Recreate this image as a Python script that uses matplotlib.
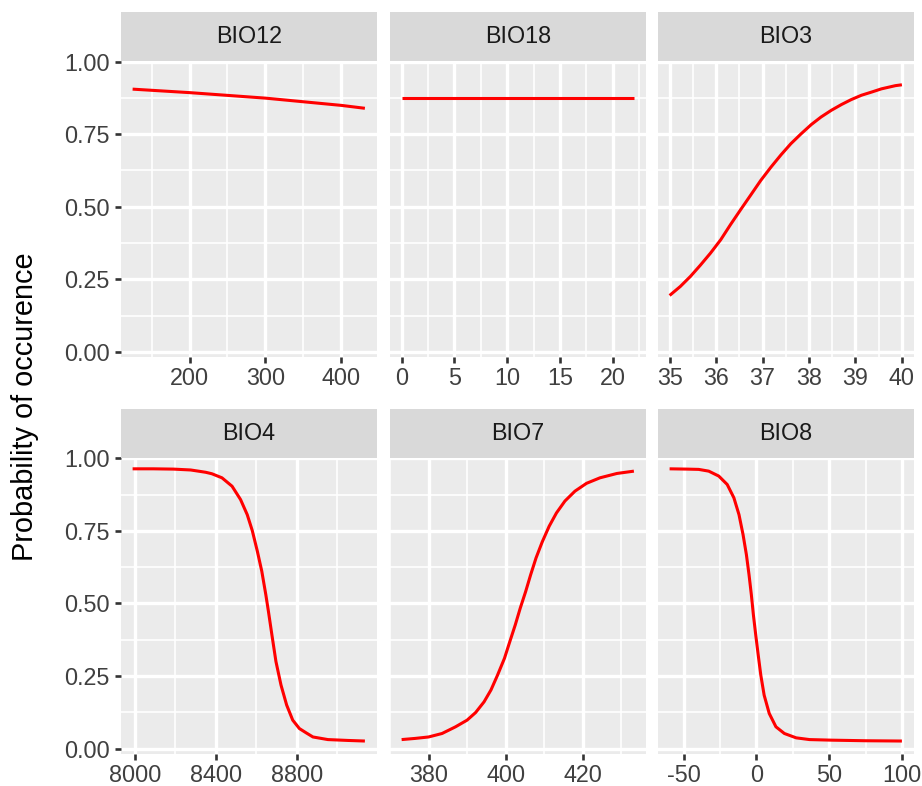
import numpy as np
import matplotlib.pyplot as plt
from matplotlib.ticker import FixedLocator

plt.rcParams['font.family'] = ['Liberation Sans', 'DejaVu Sans']

# response curves
bio12_x = [125, 200, 300, 400, 431]
bio12_y = [0.905, 0.893, 0.874, 0.849, 0.839]

bio18_x = [0, 22]
bio18_y = [0.876, 0.876]

bio3_x = [35.0, 35.23, 35.45, 35.66, 35.88, 36.10, 36.31, 36.53, 36.75, 36.96, 37.18, 37.40,
          37.61, 37.83, 38.05, 38.26, 38.48, 38.70, 38.91, 39.13, 39.35, 39.56, 39.86, 40.0]
bio3_y = [0.194, 0.225, 0.260, 0.298, 0.340, 0.386, 0.438, 0.490, 0.541, 0.590, 0.636, 0.679,
          0.717, 0.751, 0.783, 0.809, 0.832, 0.852, 0.869, 0.884, 0.895, 0.906, 0.917, 0.920]

bio4_x = [7988, 8090, 8190, 8275, 8313, 8350, 8380, 8430, 8480, 8522, 8555, 8580, 8605, 8627,
          8647, 8660, 8677, 8697, 8722, 8750, 8780, 8813, 8847, 8880, 8954, 9054, 9137]
bio4_y = [0.964, 0.964, 0.963, 0.960, 0.956, 0.952, 0.947, 0.933, 0.904, 0.858, 0.806, 0.751, 0.680, 0.611,
          0.530, 0.472, 0.392, 0.300, 0.219, 0.150, 0.098, 0.069, 0.054, 0.040, 0.031, 0.028, 0.026]

bio7_x = [373.0, 376.5, 380.0, 383.5, 387.0, 390.0, 392.2, 394.4, 396.2, 397.9, 399.7, 401.1, 402.5,
          403.8, 405.2, 406.5, 407.9, 409.5, 411.3, 413.2, 415.4, 418.0, 421.0, 424.5, 428.9, 433.3]
bio7_y = [0.031, 0.035, 0.040, 0.052, 0.075, 0.098, 0.124, 0.161, 0.202, 0.253, 0.311, 0.369, 0.426,
          0.484, 0.541, 0.599, 0.657, 0.712, 0.766, 0.812, 0.853, 0.887, 0.914, 0.933, 0.948, 0.956]

bio8_x = [-59.7, -47.7, -39.7, -32.8, -25.9, -20.1, -15.5, -12.0, -9.2, -6.9, -5.1, -3.5, -2.1,
          -0.5, 1.2, 3.0, 5.3, 8.8, 13.4, 19.2, 27.3, 36.5, 51.6, 75, 100]
bio8_y = [0.964, 0.963, 0.962, 0.956, 0.939, 0.910, 0.864, 0.806, 0.737, 0.668, 0.599, 0.530, 0.461,
          0.392, 0.323, 0.253, 0.184, 0.121, 0.075, 0.052, 0.037, 0.031, 0.029, 0.027, 0.026]

names = ['BIO12', 'BIO18', 'BIO3', 'BIO4', 'BIO7', 'BIO8']
xs = [bio12_x, bio18_x, bio3_x, bio4_x, bio7_x, bio8_x]
ys = [bio12_y, bio18_y, bio3_y, bio4_y, bio7_y, bio8_y]
major_x = [[200, 300, 400], [0, 5, 10, 15, 20], [35, 36, 37, 38, 39, 40],
           [8000, 8400, 8800], [380, 400, 420], [-50, 0, 50, 100]]
minor_x = [[150, 250, 350], [2.5, 7.5, 12.5, 17.5, 22.5], [35.5, 36.5, 37.5, 38.5, 39.5],
           [8200, 8600, 9000], [370, 390, 410, 430], [-25, 25, 75]]
y_ticks = [0, 0.25, 0.5, 0.75, 1.0]
y_minor = [0.125, 0.375, 0.625, 0.875]

W, H = 922, 786
fig = plt.figure(figsize=(W / 100, H / 100), dpi=100)

lefts = [121, 390, 658]
pw = 255.5
tops = [60.7, 457.5]
ph = 296.3
sh = 49
fs = 16.8

for i in range(6):
    r, c = divmod(i, 3)
    l, t = lefts[c], tops[r]
    ax = fig.add_axes([l / W, 1 - (t + ph) / H, pw / W, ph / H])
    ax.set_facecolor('#EBEBEB')
    ax.plot(xs[i], ys[i], color='#FF0000', lw=2.2, solid_capstyle='butt')

    lo, hi = min(xs[i]), max(xs[i])
    pad = 0.05 * (hi - lo)
    ax.set_xlim(lo - pad, hi + pad)
    ax.set_ylim(-0.018, 1.003)

    ax.xaxis.set_major_locator(FixedLocator(major_x[i]))
    ax.xaxis.set_minor_locator(FixedLocator(minor_x[i]))
    ax.yaxis.set_major_locator(FixedLocator(y_ticks))
    ax.yaxis.set_minor_locator(FixedLocator(y_minor))
    ax.set_xticklabels([str(v) for v in major_x[i]])
    ax.grid(which='major', color='white', lw=2.4)
    ax.grid(which='minor', color='white', lw=1.2)
    ax.set_axisbelow(True)
    for s in ax.spines.values():
        s.set_visible(False)

    ax.tick_params(which='minor', length=0)
    ax.tick_params(axis='x', which='major', length=4.5, width=1.9, color='#333333',
                   labelsize=fs, labelcolor='#404040', pad=3)
    if c == 0:
        ax.set_yticklabels(['0.00', '0.25', '0.50', '0.75', '1.00'])
        ax.tick_params(axis='y', which='major', length=4.5, width=1.9, color='#333333',
                       labelsize=fs, labelcolor='#404040', pad=3.5)
    else:
        ax.tick_params(axis='y', which='major', length=0, labelleft=False)

    # facet strip
    st = fig.add_axes([l / W, 1 - t / H, pw / W, sh / H])
    st.set_facecolor('#D9D9D9')
    st.set_xticks([])
    st.set_yticks([])
    for s in st.spines.values():
        s.set_visible(False)
    st.text(0.5, 0.5, names[i], ha='center', va='center', fontsize=fs, color='#1A1A1A',
            transform=st.transAxes)

fig.text(25 / W, 1 - 407 / H, 'Probability of occurence', rotation=90, ha='center', va='center',
         fontsize=20.8, color='black')

fig.savefig('out.png', dpi=100, facecolor='white')
